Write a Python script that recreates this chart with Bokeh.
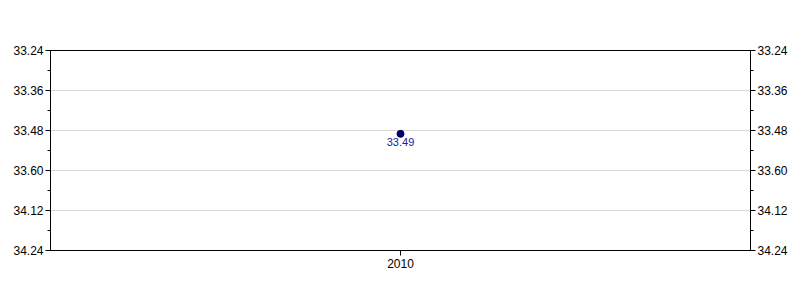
from bokeh.plotting import figure
from bokeh.models import (FactorRange, Range1d, FixedTicker, CustomJSTickFormatter,
                          LinearAxis, ColumnDataSource, LabelSet)
from bokeh.core.properties import value
from bokeh.embed import file_html
from bokeh.resources import INLINE

years = ["2010"]
values = [33.49]
value_labels = ["33.49"]
y_ticks = [33.24, 33.36, 33.48, 33.60, 33.72, 33.84]
y_minor = [33.30, 33.42, 33.54, 33.66, 33.78]

FONT = "Liberation Sans"

p = figure(width=800, height=300, output_backend="svg", toolbar_location=None,
           x_range=FactorRange(factors=years, range_padding=0),
           y_range=Range1d(y_ticks[-1], y_ticks[0]),
           min_border_left=50, min_border_right=50, min_border_top=50, min_border_bottom=50,
           y_axis_location=None)
p.outline_line_color = "black"
p.outline_line_width = 1
p.background_fill_color = "white"
p.border_fill_color = "white"

fmt = CustomJSTickFormatter(code="""
    let v = Math.round(tick * 100);
    let w = Math.floor(v / 100);
    let f = v - w * 100;
    if (f > 60) { w += 1; f -= 60; }
    return w + "." + (f < 10 ? "0" + f : "" + f);
""")

for loc in ["left", "right"]:
    ax = LinearAxis(ticker=FixedTicker(ticks=y_ticks, minor_ticks=y_minor), formatter=fmt)
    ax.major_tick_out = 5
    ax.major_tick_in = 0
    ax.minor_tick_out = 3
    ax.minor_tick_in = 0
    ax.major_label_standoff = 2
    ax.major_label_text_font = FONT
    ax.major_label_text_font_size = "12px"
    ax.major_label_text_color = "black"
    ax.axis_line_color = "black"
    ax.major_tick_line_color = "black"
    ax.minor_tick_line_color = "black"
    p.add_layout(ax, loc)

xa = p.xaxis[0]
xa.major_tick_out = 5
xa.major_tick_in = 0
xa.major_label_standoff = 3
xa.major_label_text_font = FONT
xa.major_label_text_font_size = "12px"
xa.major_label_text_color = "black"
xa.axis_line_color = "black"

p.xgrid.grid_line_color = None
p.ygrid.grid_line_color = "#d9d9d9"
p.ygrid.ticker = FixedTicker(ticks=y_ticks)

src = ColumnDataSource(dict(x=years, y=values, label=value_labels))
p.scatter("x", "y", source=src, size=7, fill_color="#000080", line_color="#000033", line_width=1)
labels = LabelSet(x="x", y="y", text="label", source=src, text_align="center",
                  text_baseline="top", y_offset=-4, text_font=value(FONT),
                  text_font_size=value("11px"), text_color=value("#22229a"))
p.add_layout(labels)

open("out.html", "w").write(file_html(p, INLINE))
